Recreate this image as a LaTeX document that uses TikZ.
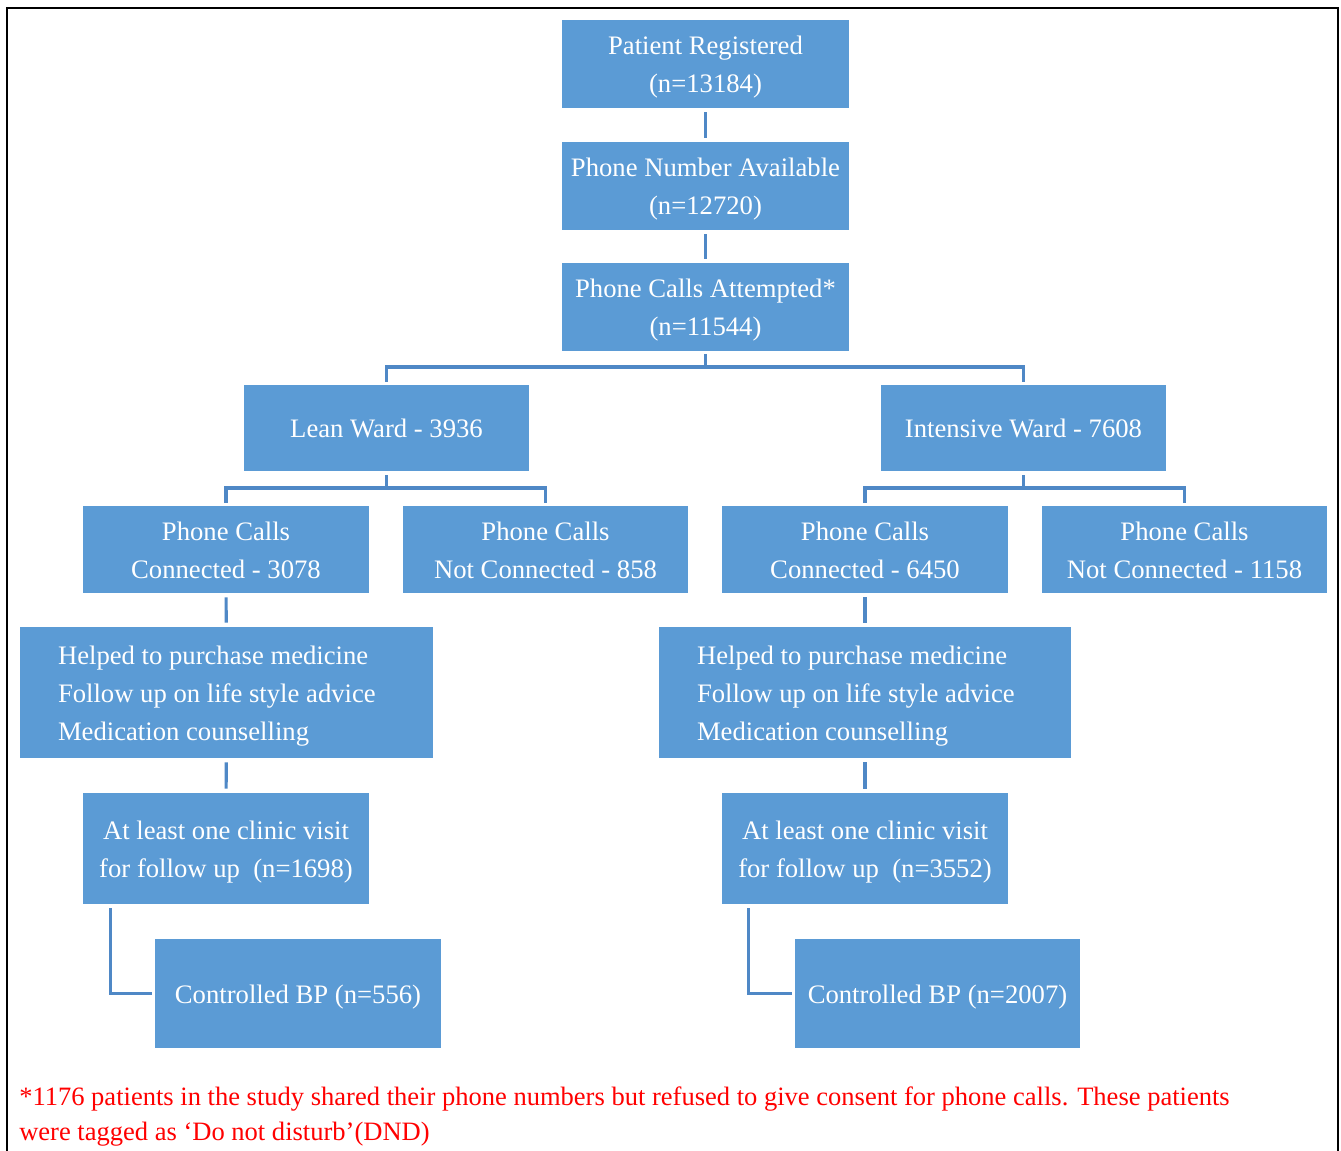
\documentclass[tikz,border=0pt]{standalone}
\usepackage{fontspec}
\setmainfont{Liberation Serif}
\usetikzlibrary{calc}
\definecolor{boxblue}{HTML}{5B9BD5}
\definecolor{linkblue}{HTML}{4F88C6}
\definecolor{notered}{HTML}{FF0000}
\newcommand\boxstrut{\rule[-7.1pt]{0pt}{28.5pt}}
\begin{document}
\begin{tikzpicture}[x=0.75pt,y=-0.75pt,
  wh/.style 2 args={minimum width=#1*0.75pt, minimum height=#2*0.75pt, text width=#1*0.75pt},
  box/.style={rectangle, fill=boxblue, draw=none, text=white, inner sep=0pt, align=flush center,
    font=\fontsize{20}{28.5}\selectfont,
    execute at begin node=\boxstrut, execute at end node=\boxstrut},
  listbox/.style={box, align=flush left, inner xsep=38*0.75pt},
  link/.style={draw=linkblue, line width=2.3pt},
  gap/.style={shorten <=3pt, shorten >=3pt}]
\useasboundingbox (0,0) rectangle (1341,1151);
\draw[line width=2.2pt, black] (7,1151) -- (7,8) -- (1338,8) -- (1338,1151);

\node[box, wh={287}{88}] (pr)  at (705.5,64)  {Patient Registered\\(n=13184)};
\node[box, wh={287}{88}] (pna) at (705.5,186) {Phone Number Available\\(n=12720)};
\node[box, wh={287}{88}] (pca) at (705.5,307) {Phone Calls Attempted*\\(n=11544)};
\node[box, wh={285}{86}] (lw)  at (386.5,428) {Lean Ward - 3936};
\node[box, wh={285}{86}] (iw)  at (1023.5,428) {Intensive Ward - 7608};
\node[box, wh={286}{87}] (lc)  at (226,549.5) {Phone Calls\\Connected - 3078};
\node[box, wh={285}{87}] (lnc) at (545.5,549.5) {Phone Calls\\Not Connected - 858};
\node[box, wh={286}{87}] (rc)  at (865,549.5) {Phone Calls\\Connected - 6450};
\node[box, wh={285}{87}] (rnc) at (1184.5,549.5) {Phone Calls\\Not Connected - 1158};
\node[listbox, wh={413}{131}, text width=337*0.75pt] (lh) at (226.5,692.5)
  {Helped to purchase medicine\\Follow up on life style advice\\Medication counselling};
\node[listbox, wh={412}{131}, text width=336*0.75pt] (rh) at (865,692.5)
  {Helped to purchase medicine\\Follow up on life style advice\\Medication counselling};
\node[box, wh={286}{111}] (lv) at (226,848.5) {At least one clinic visit\\for follow up\ \ (n=1698)};
\node[box, wh={286}{111}] (rv) at (865,848.5) {At least one clinic visit\\for follow up\ \ (n=3552)};
\node[box, wh={286}{109}] (lbp) at (298,993.5) {Controlled BP (n=556)};
\node[box, wh={285}{109}] (rbp) at (937.5,993.5) {Controlled BP (n=2007)};

% vertical links
\draw[link, gap] (pr) -- (pna);
\draw[link, gap] (pna) -- (pca);
\draw[link, gap] (lc) -- (lh);
\draw[link, gap] (lh) -- (lv);
\draw[link, gap] (rc) -- (rh);
\draw[link, gap] (rh) -- (rv);

% splits
\coordinate (s1) at (705.5,367);
\draw[link, shorten <=2pt] (pca.south) -- (s1);
\draw[link, shorten >=2pt] (s1) -| (lw.north);
\draw[link, shorten >=2pt] (s1) -| (iw.north);
\coordinate (s2) at (386.5,488);
\draw[link, shorten <=3pt] (lw.south) -- (s2);
\draw[link, shorten >=2pt] (s2) -| (lc.north);
\draw[link, shorten >=2pt] (s2) -| (lnc.north);
\coordinate (s3) at (1023.5,488);
\draw[link, shorten <=3pt] (iw.south) -- (s3);
\draw[link, shorten >=2pt] (s3) -| (rc.north);
\draw[link, shorten >=2pt] (s3) -| (rnc.north);

% elbows
\coordinate (e1) at ($(lv.south west)+(28,0)$);
\draw[link, shorten <=3pt, shorten >=2pt] (e1) |- (lbp.west);
\coordinate (e2) at ($(rv.south west)+(27,0)$);
\draw[link, shorten <=3pt, shorten >=2pt] (e2) |- (rbp.west);

% footnote
\node[anchor=north west, inner sep=0pt, text=notered, align=left,
  font=\fontsize{19.9}{26.25}\selectfont] (note) at (19,1085)
  {\rule{0pt}{15pt}*1176 patients in the study shared their phone numbers but refused to give consent for phone calls. These patients\\
   were tagged as `Do not disturb'(DND)};
\end{tikzpicture}
\end{document}
